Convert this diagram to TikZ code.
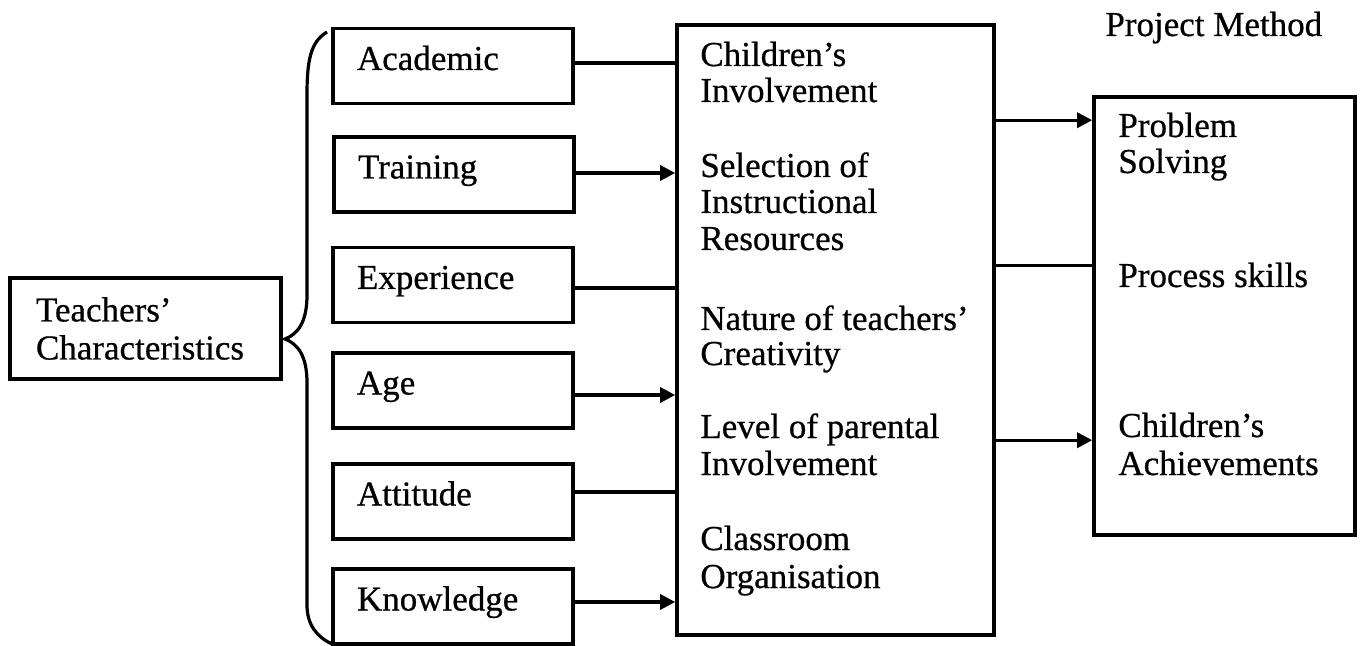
\documentclass[tikz,border=0pt]{standalone}
\usepackage{fontspec}
\setmainfont{Liberation Serif}[FakeBold=0.6]
\usetikzlibrary{arrows.meta}
\begin{document}
\begin{tikzpicture}[x=0.5pt,y=-0.5pt,
  font=\fontsize{17.5}{19}\selectfont,
  box/.style={draw, line width=1.8pt, rectangle, align=left, inner ysep=0pt},
  smallbox/.style={box, minimum width=120pt, minimum height=37.5pt, text width=96pt,
    inner xsep=12pt, text height=0.7em, text depth=0.3em},
  txt/.style={anchor=base west, inner sep=0pt},
  ln/.style={line width=1.6pt},
  arr/.style={line width=1.6pt, -{Triangle[length=7.5pt,width=7.5pt]}}]
\useasboundingbox (0,0) rectangle (1364,646);

% left box
\node[box, text width=109.5pt, inner xsep=13pt, minimum height=50.5pt] (tc) at (145.5,328.5) {Teachers’\\Characteristics};

% brace
\draw[line width=1.6pt] (327,32) .. controls (310,42) and (307,62) .. (307,95) -- (307,295)
  .. controls (307,322) and (298,334) .. (285,339)
  .. controls (298,344) and (307,356) .. (307,383) -- (307,605)
  .. controls (307,625) and (317,637) .. (332,644);

% characteristic boxes
\node[smallbox] (acad) at (453,66) {Academic};
\node[smallbox] (train) at (454,174.5) {Training};
\node[smallbox] (exper) at (453,285) {Experience};
\node[smallbox] (age) at (453,390.5) {Age};
\node[smallbox] (att) at (453,501.5) {Attitude};
\node[smallbox] (know) at (453,606.5) {Knowledge};

% middle box
\node[box, minimum width=158.5pt, minimum height=305pt] (mid) at (835.5,330) {};
\node[txt] (m1) at (700,66) {Children’s};
\node[txt] (m2) at (700,102) {Involvement};
\node[txt] (m3) at (700,177) {Selection of};
\node[txt] (m4) at (700,213) {Instructional};
\node[txt] (m5) at (700,250) {Resources};
\node[txt] (m6) at (700,330) {Nature of teachers’};
\node[txt] (m7) at (700,365) {Creativity};
\node[txt] (m8) at (700,438) {Level of parental};
\node[txt] (m9) at (700,475) {Involvement};
\node[txt] (m10) at (700,550) {Classroom};
\node[txt] (m11) at (700,588) {Organisation};

% right box
\node[txt] (pm) at (1105,36) {Project Method};
\node[box, minimum width=130.5pt, minimum height=219pt] (right) at (1224.5,316) {};
\node[txt] (r1t) at (1118,137) {Problem};
\node[txt] (r2t) at (1118,173) {Solving};
\node[txt] (r3t) at (1118,287) {Process skills};
\node[txt] (r4t) at (1118,437) {Children’s};
\node[txt] (r5t) at (1118,475) {Achievements};

% connectors left -> middle
\draw[ln]  (acad.east)  ++(0,-3)   coordinate (a1) -- (a1 -| mid.west);
\draw[arr] (train.east) ++(0,-1.5) coordinate (a2) -- (a2 -| mid.west);
\draw[ln]  (exper.east) ++(0,3)    coordinate (a3) -- (a3 -| mid.west);
\draw[arr] (age.east)   ++(0,4.5)  coordinate (a4) -- (a4 -| mid.west);
\draw[ln]  (att.east)   ++(0,-9.5) coordinate (a5) -- (a5 -| mid.west);
\draw[arr] (know.east)  ++(0,-4.5) coordinate (a6) -- (a6 -| mid.west);

% connectors middle -> right
\draw[arr] (mid.north east) ++(0,97)  coordinate (b1) -- (b1 -| right.west);
\draw[ln]  (mid.north east) ++(0,242) coordinate (b2) -- (b2 -| right.west);
\draw[arr] (mid.north east) ++(0,417) coordinate (b3) -- (b3 -| right.west);
\end{tikzpicture}
\end{document}
